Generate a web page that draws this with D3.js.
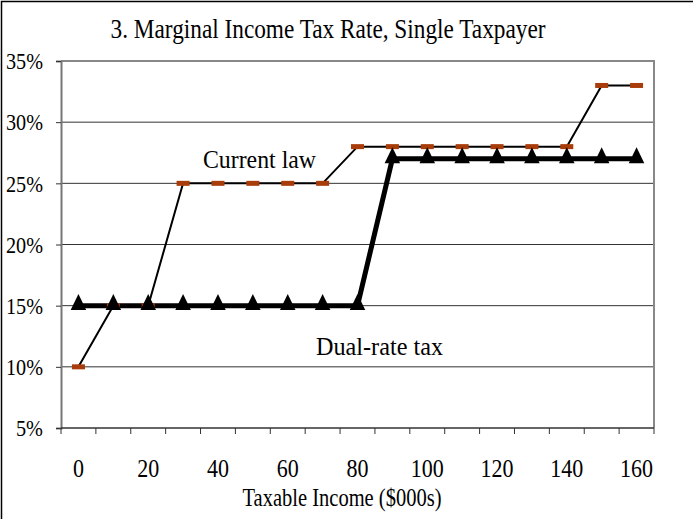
<!DOCTYPE html>
<html>
<head>
<meta charset="utf-8">
<script src="https://cdn.jsdelivr.net/npm/d3@7"></script>
</head>
<body style="margin:0; background:#fff">
<svg id="chart" width="693" height="519"></svg>
<script>
// incomes in $000s, one point every 10
const incomes = [0, 10, 20, 30, 40, 50, 60, 70, 80, 90, 100, 110, 120, 130, 140, 150, 160]
const currentLaw = [10, 15, 15, 25, 25, 25, 25, 25, 28, 28, 28, 28, 28, 28, 28, 33, 33]
const dualRate = [15, 15, 15, 15, 15, 15, 15, 15, 15, 27, 27, 27, 27, 27, 27, 27, 27]
const yTicks = [5, 10, 15, 20, 25, 30, 35]
const xLabels = [0, 20, 40, 60, 80, 100, 120, 140, 160]

const svg = d3.select('#chart')
const W = 693, H = 519
const m = { left: 61, right: 39, top: 61, bottom: 91 }
const serif = '"Liberation Serif", monospace'

// outer frame (left + top visible)
svg.append('path')
  .attr('d', `M1.5,${H} V1.5 H${W}`)
  .attr('fill', 'none').attr('stroke', '#000').attr('stroke-width', 1.5)

const x = d3.scaleBand().domain(incomes).range([m.left, W - m.right])
const y = d3.scaleLinear().domain([5, 35]).range([H - m.bottom, m.top])
const cx = d => x(d) + x.bandwidth() / 2

// gridlines
svg.append('g')
  .selectAll('line')
  .data(yTicks.filter(t => t > 5 && t < 35))
  .join('line')
  .attr('x1', m.left).attr('x2', W - m.right)
  .attr('y1', d => y(d)).attr('y2', d => y(d))
  .attr('stroke', '#333').attr('stroke-width', 1)

// plot frame top + right
svg.append('path')
  .attr('d', `M${m.left},${y(35)} H${W - m.right} V${y(5)}`)
  .attr('fill', 'none').attr('stroke', '#888').attr('stroke-width', 2)

// y axis
const yAxis = svg.append('g')
  .attr('transform', `translate(${m.left},0)`)
  .call(d3.axisLeft(y).tickValues(yTicks).tickFormat(d => d + '%').tickSize(5).tickPadding(13))
yAxis.select('.domain').attr('stroke', '#777').attr('stroke-width', 2)
yAxis.selectAll('.tick line').attr('stroke', '#333')
yAxis.selectAll('text')
  .style('font-family', serif)
  .attr('font-size', 23).attr('fill', '#000')
  .attr('dy', '0.34em')
  .attr('textLength', d => d < 10 ? 27 : 37).attr('lengthAdjust', 'spacingAndGlyphs')

// x axis: ticks between categories
const xg = svg.append('g').attr('transform', `translate(0,${y(5)})`)
xg.append('line')
  .attr('x1', m.left).attr('x2', W - m.right)
  .attr('stroke', '#333').attr('stroke-width', 1.5)
xg.selectAll('line.tk')
  .data(incomes.concat(['end']))
  .join('line').attr('class', 'tk')
  .attr('x1', d => d === 'end' ? W - m.right : x(d))
  .attr('x2', d => d === 'end' ? W - m.right : x(d))
  .attr('y1', 0).attr('y2', 6)
  .attr('stroke', '#333')
xg.selectAll('text')
  .data(xLabels)
  .join('text')
  .attr('x', d => cx(d)).attr('y', 49)
  .attr('text-anchor', 'middle')
  .style('font-family', serif)
  .attr('font-size', 26)
  .attr('textLength', d => String(d).length * 11)
  .attr('lengthAdjust', 'spacingAndGlyphs')
  .text(d => d)

// axis title
svg.append('text')
  .attr('x', 342).attr('y', 506)
  .attr('text-anchor', 'middle')
  .style('font-family', serif)
  .attr('font-size', 25)
  .attr('textLength', 199).attr('lengthAdjust', 'spacingAndGlyphs')
  .text('Taxable Income ($000s)')

// title
svg.append('text')
  .attr('x', 328).attr('y', 38)
  .attr('text-anchor', 'middle')
  .style('font-family', serif)
  .attr('font-size', 27)
  .attr('textLength', 435).attr('lengthAdjust', 'spacingAndGlyphs')
  .text('3. Marginal Income Tax Rate, Single Taxpayer')

const line = d3.line().x((d, i) => cx(incomes[i])).y(d => y(d))

svg.append('path').datum(currentLaw)
  .attr('d', line).attr('fill', 'none')
  .attr('stroke', '#000').attr('stroke-width', 2)

svg.append('path').datum(dualRate)
  .attr('d', line).attr('fill', 'none')
  .attr('stroke', '#000').attr('stroke-width', 5)

// current law markers: flat rust dashes
svg.append('g').selectAll('rect')
  .data(currentLaw)
  .join('rect')
  .attr('x', (d, i) => cx(incomes[i]) - 6.5)
  .attr('y', d => y(d) - 2.5)
  .attr('width', 13).attr('height', 5)
  .attr('fill', '#a83c0a')

// dual-rate markers: triangles
const tri = d3.symbol().type(d3.symbolTriangle).size(95)
svg.append('g').selectAll('path')
  .data(dualRate)
  .join('path')
  .attr('d', tri)
  .attr('transform', (d, i) => `translate(${cx(incomes[i])},${y(d) - 1}) scale(1.05,1.25)`)
  .attr('fill', '#000')

// series labels
svg.append('text')
  .attr('x', 203).attr('y', 168)
  .style('font-family', serif)
  .attr('font-size', 25)
  .attr('textLength', 113).attr('lengthAdjust', 'spacingAndGlyphs')
  .text('Current law')

svg.append('text')
  .attr('x', 316).attr('y', 355)
  .style('font-family', serif)
  .attr('font-size', 25)
  .attr('textLength', 127).attr('lengthAdjust', 'spacingAndGlyphs')
  .text('Dual-rate tax')
</script>
</body>
</html>
